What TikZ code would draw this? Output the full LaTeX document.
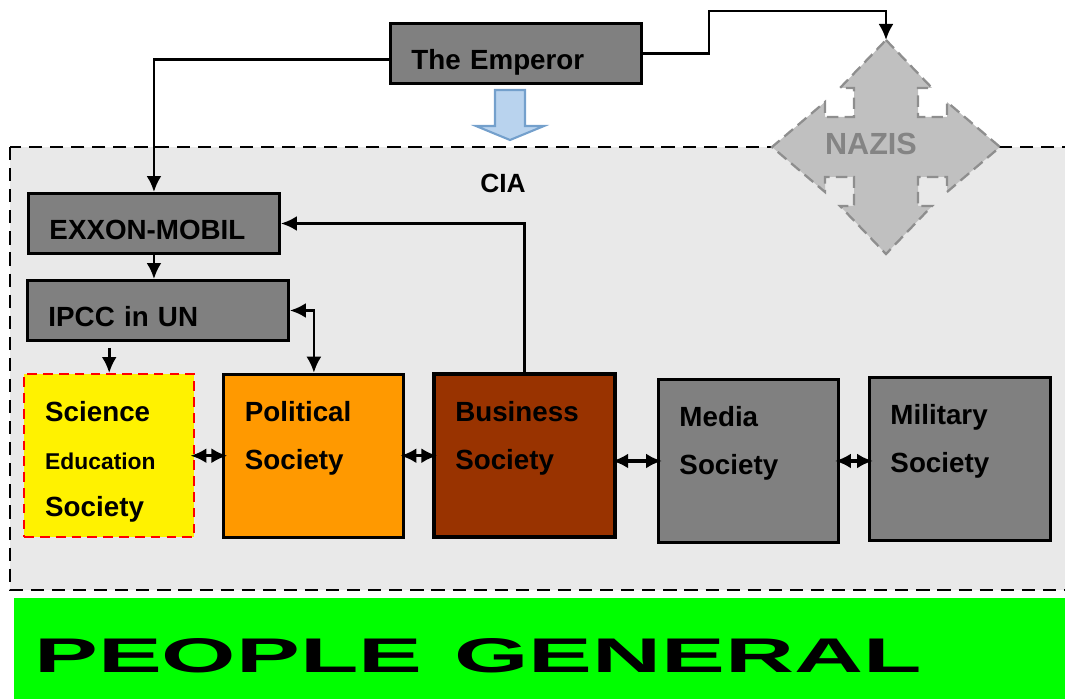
\documentclass[tikz,border=0pt]{standalone}
\usepackage{fontspec}
\setmainfont{Liberation Sans}
\usepackage{xcolor}
\usepackage{graphicx}
\usetikzlibrary{arrows.meta,calc,positioning}

\definecolor{boxgray}{HTML}{808080}
\definecolor{ciagray}{HTML}{E9E9E9}
\definecolor{nazifill}{HTML}{C0C0C0}
\definecolor{naziedge}{HTML}{8E8E8E}
\definecolor{nazitext}{HTML}{848484}
\definecolor{polorange}{HTML}{FF9900}
\definecolor{busbrown}{HTML}{993300}
\definecolor{peoplegreen}{HTML}{00FF00}
\definecolor{arrowblue}{HTML}{B9D3EE}
\definecolor{arrowedge}{HTML}{74A0CC}

\begin{document}
\begin{tikzpicture}[x=0.02cm, y=-0.02cm, >={Latex[length=0.32cm,width=0.3cm]},
  block/.style={rectangle, draw, line width=1.7pt, fill=boxgray, anchor=north west, align=left, inner xsep=0.42cm, inner ysep=0pt, text height=0.92cm, text depth=0.28cm, font=\fontsize{15.8}{19}\selectfont\bfseries},
  society/.style={block, text height=0.94cm, text depth=2.32cm, text width=2.76cm, font=\fontsize{15.8}{27.2}\selectfont\bfseries},
  link/.style={line width=1.5pt, ->},
  twoway/.style={line width=1.8pt, <->, shorten <=-0.1cm, shorten >=-0.1cm}]
\useasboundingbox (0,0) rectangle (1065,699);

\draw[fill=ciagray, line width=1.6pt, dash pattern=on 7.5pt off 4.5pt] (10,147) rectangle (1080,590);
\node[font=\fontsize{15}{18}\selectfont\bfseries] (cia) at (503,183) {CIA};

\begin{scope}[shift={(886,147)}]
\draw[fill=nazifill, draw=naziedge, line width=1.3pt, dash pattern=on 6.5pt off 3.5pt] (0,-107) -- (46,-59) -- (32,-59) -- (32,-30) -- (61,-30) -- (61,-45) -- (114,0) -- (61,45) -- (61,30) -- (32,30) -- (32,59) -- (46,59) -- (0,107) -- (-46,59) -- (-32,59) -- (-32,30) -- (-61,30) -- (-61,45) -- (-114,0) -- (-61,-45) -- (-61,-30) -- (-32,-30) -- (-32,-59) -- (-46,-59) -- cycle;
\coordinate (nazistop) at (0,-107);
\end{scope}
\node[text=nazitext, font=\fontsize{17.4}{20}\selectfont\bfseries] (nazis) at (871,144) {NAZIS};

\draw[fill=arrowblue, draw=arrowedge, line width=1.2pt] (495,90) -- (525,90) -- (525,126) -- (544,126) -- (510,140) -- (476,126) -- (495,126) -- cycle;

\node[block, text width=4.18cm] (emperor) at (389,22) {The Emperor};
\node[block, text width=4.18cm] (exxon) at (27,192) {EXXON-MOBIL};
\node[block, text width=4.38cm] (ipcc) at (26,279) {IPCC in UN};

\node[society, text width=2.56cm, fill=yellow, draw=red, line width=1.4pt, dash pattern=on 5.5pt off 3.5pt] (science) at (23,373) {Science\\{\fontsize{13}{27.2}\selectfont Education}\\Society};
\node[society, fill=polorange, right=0.54cm of science] (political) {Political\\Society};
\node[society, text width=2.78cm, fill=busbrown, line width=2.2pt, right=0.54cm of political] (business) {Business\\Society};
\node[society] (media) at (657,378) {Media\\Society};
\node[society, text width=2.78cm] (military) at (868,376) {Military\\Society};

\node[fill=peoplegreen, anchor=north west, align=left, text width=20.22cm, inner xsep=0.4cm, inner ysep=0pt, text height=1.48cm, text depth=0.54cm, font=\fontsize{27.7}{30}\selectfont\bfseries] (people) at (14,598) {\scalebox{1.966}[1]{PEOPLE GENERAL}};

\draw[link] ([yshift=-0.12cm]emperor.west) -| (exxon.north);
\draw[link] (emperor.east) -- ++(66,0) |- ($(nazistop)+(0,-29)$) -- (nazistop);
\draw[link] (exxon.south) -- (exxon.south |- ipcc.north);
\draw[link, shorten <=0.12cm] (science.north |- ipcc.south) -- (science.north);
\draw[link] (business.north) |- (exxon.east);
\draw[link, <->] (ipcc.east) -| (political.north);
\draw[twoway] (science.east) -- (political.west);
\draw[twoway] (political.east) -- (business.west);
\draw[twoway] (business.east |- media.west) -- (media.west);
\draw[twoway] (media.east) -- (military.west |- media.east);

\end{tikzpicture}
\end{document}
